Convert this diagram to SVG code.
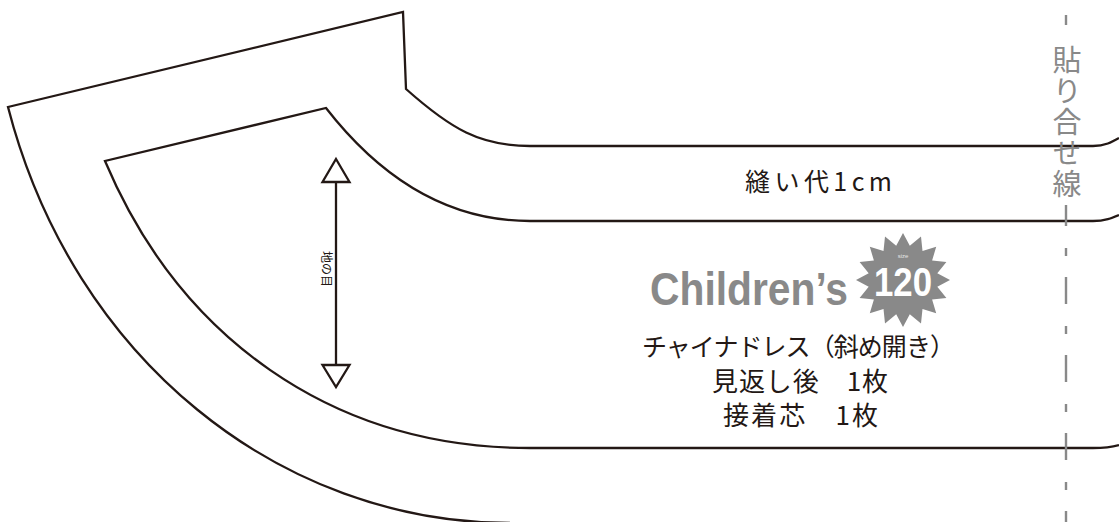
<svg xmlns="http://www.w3.org/2000/svg" width="1119" height="522" viewBox="0 0 1119 522">
<style>
.cut{fill:none;stroke:#231815;stroke-width:2.3;stroke-linejoin:miter}
.jp{font-family:"Noto Sans CJK JP","Noto Sans",sans-serif;font-weight:400;fill:#231815}
.gray{fill:#898989}
.dash{fill:none;stroke:#898989;stroke-width:2.4}
</style>
<rect width="1119" height="522" fill="#ffffff"/>
<g id="connectors">
<path id="outer-line" class="cut" d="M510,523 C280,523 73,359 8,107 L403,12 L406,89 C451,129 480,146 530,146 L1093,146 C1105,146 1112,142 1119,138"/>
<path id="seam-line" class="cut" d="M1119,445 C1112,447 1105,448 1093,448 L530,448 C330,448 179,336 105,161 L326,108 C375,171 440,221 530,221 L1093,221 C1105,221 1112,218 1119,215"/>
</g>
<g id="grainline">
<line class="cut" x1="336" y1="182" x2="336" y2="365"/>
<polygon class="cut" style="fill:#ffffff" points="336,159 349.5,182 322.5,182"/>
<polygon class="cut" style="fill:#ffffff" points="322.5,365 349.5,365 336,387"/>
<text class="jp" x="0" y="0" font-size="12" text-anchor="middle" dominant-baseline="central" transform="translate(327,269) rotate(90)">地の目</text>
</g>
<g id="join-line">
<path class="dash" d="M1066,15 V25"/>
<path class="dash" d="M1066,205 V522" stroke-dasharray="27 22 8 21" stroke-dashoffset="6"/>
<text class="gray" x="1067" y="45" writing-mode="vertical-rl" font-family="'Noto Sans CJK JP','Noto Sans',sans-serif" font-size="29" letter-spacing="2">貼り合せ線</text>
</g>
<g id="seam-label">
<text class="jp" x="745" y="191" font-size="25" textLength="147" lengthAdjust="spacing">縫い代1cm</text>
</g>
<g id="logo">
<text x="650" y="305" font-family="'Liberation Sans',Arial,sans-serif" font-weight="bold" font-size="46" textLength="198" lengthAdjust="spacingAndGlyphs" fill="#898989">Children’s</text>
<polygon fill="#898989" points="903,233 909.8,245.7 921,236.6 922.5,250.9 936.2,246.8 932.1,260.6 946.4,262 937.3,273.2 950,280 937.3,286.8 946.4,298 932.1,299.5 936.2,313.2 922.5,309.1 921,323.4 909.8,314.3 903,327 896.2,314.3 885,323.4 883.5,309.1 869.8,313.2 873.9,299.5 859.6,298 868.7,286.8 856,280 868.7,273.2 859.6,262 873.9,260.6 869.8,246.8 883.5,250.9 885,236.6 896.2,245.7"/>
<text x="903" y="258" font-family="'Liberation Sans',Arial,sans-serif" font-size="6" text-anchor="middle" fill="#e6e6e6">size</text>
<text x="874" y="296" font-family="'Liberation Sans',Arial,sans-serif" font-weight="bold" font-size="40" textLength="58" lengthAdjust="spacingAndGlyphs" fill="#ffffff">120</text>
</g>
<g id="piece-info">
<text class="jp" x="642" y="356" font-size="25" textLength="313" lengthAdjust="spacing">チャイナドレス（斜め開き）</text>
<text class="jp" x="712" y="391" font-size="26" textLength="176" lengthAdjust="spacing">見返し後　1枚</text>
<text class="jp" x="723" y="425" font-size="26" textLength="155" lengthAdjust="spacing">接着芯　1枚</text>
</g>
</svg>
